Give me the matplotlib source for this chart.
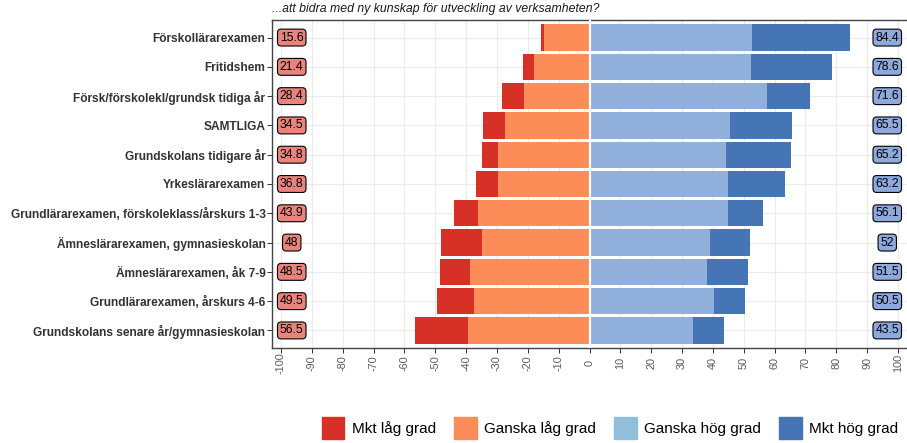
import numpy as np
import matplotlib
matplotlib.use('Agg')
import matplotlib.pyplot as plt
from matplotlib.patches import Patch

plt.rcParams['font.family'] = ['Liberation Sans', 'DejaVu Sans']

# kategorier (uppifrån och ned)
kategorier = [
    'Förskollärarexamen',
    'Fritidshem',
    'Försk/förskolekl/grundsk tidiga år',
    'SAMTLIGA',
    'Grundskolans tidigare år',
    'Yrkeslärarexamen',
    'Grundlärarexamen, förskoleklass/årskurs 1-3',
    'Ämneslärarexamen, gymnasieskolan',
    'Ämneslärarexamen, åk 7-9',
    'Grundlärarexamen, årskurs 4-6',
    'Grundskolans senare år/gymnasieskolan',
]
mkt_lag = [1.0, 3.4, 7.2, 7.0, 5.2, 7.0, 7.9, 13.0, 9.7, 12.2, 17.1]
ganska_lag = [14.6, 18.0, 21.2, 27.5, 29.6, 29.8, 36.0, 35.0, 38.8, 37.3, 39.4]
ganska_hog = [52.7, 52.3, 57.5, 45.5, 44.1, 44.9, 44.9, 39.2, 38.0, 40.2, 33.5]
mkt_hog = [31.7, 26.3, 14.1, 20.0, 21.1, 18.3, 11.2, 12.8, 13.5, 10.3, 10.0]
summa_lag = ['15.6', '21.4', '28.4', '34.5', '34.8', '36.8', '43.9', '48', '48.5', '49.5', '56.5']
summa_hog = ['84.4', '78.6', '71.6', '65.5', '65.2', '63.2', '56.1', '52', '51.5', '50.5', '43.5']

titel = '...att bidra med ny kunskap för utveckling av verksamheten?'
serier = ['Mkt låg grad', 'Ganska låg grad', 'Ganska hög grad', 'Mkt hög grad']

RED = '#D73027'
ORANGE = '#FC8D59'
LBLUE = '#91AFDB'
LBLUE_LEG = '#91BFDB'
DBLUE = '#4575B4'

n = len(kategorier)
y = np.arange(n)[::-1]
ml = np.array(mkt_lag)
gl = np.array(ganska_lag)
gh = np.array(ganska_hog)
mh = np.array(mkt_hog)

fig = plt.figure(figsize=(9.07, 4.43), dpi=100)
ax = fig.add_axes([272 / 907, 1 - 348 / 443, 1 - 272 / 907, (348 - 20) / 443])

h = 0.9
ax.barh(y, -gl, height=h, color=ORANGE, zorder=2)
ax.barh(y, -ml, left=-gl, height=h, color=RED, zorder=2)
ax.barh(y, gh, height=h, color=LBLUE, zorder=2)
ax.barh(y, mh, left=gh, height=h, color=DBLUE, zorder=2)
ax.axvline(0, color='white', lw=1.6, zorder=3)

# etiketter med summor
for yi, sl, sh in zip(y, summa_lag, summa_hog):
    ax.text(-96.5, yi, sl, ha='center', va='center', fontsize=8.8, zorder=5,
            bbox=dict(boxstyle='round,pad=0.2,rounding_size=0.3', fc='#E9837B', ec='black', lw=0.8))
    ax.text(96.5, yi, sh, ha='center', va='center', fontsize=8.8, zorder=5,
            bbox=dict(boxstyle='round,pad=0.2,rounding_size=0.3', fc='#8EA9DB', ec='black', lw=0.8))

ax.set_xlim(-102.9, 102.9)
ax.set_ylim(-0.6, n - 0.4)
ax.set_xticks(np.arange(-100, 101, 10))
ax.set_xticklabels([str(v) for v in range(-100, 101, 10)], rotation=90,
                   va='center', ha='center', fontsize=7.8, color='#5A5A5A')
ax.set_yticks(y)
ax.set_yticklabels(kategorier, fontsize=8.6, fontweight='bold', color='#333333')
ax.tick_params(axis='x', length=3.5, pad=7.5, color='#333333', width=0.7)
ax.tick_params(axis='y', length=3.5, pad=1.2, color='#333333', width=0.7)
ax.grid(True, color='#EBEBEB', lw=0.8, zorder=0)
ax.set_axisbelow(True)
for s in ['left', 'bottom', 'top']:
    ax.spines[s].set_color('#444444')
    ax.spines[s].set_linewidth(1.0)
ax.spines['right'].set_visible(False)

fig.text(272 / 907, 1 - 9 / 443, titel, fontsize=8.8, style='italic', va='center', ha='left', color='#1A1A1A')

handles = [Patch(color=RED), Patch(color=ORANGE), Patch(color=LBLUE_LEG), Patch(color=DBLUE)]
fig.legend(handles, serier, loc='center', bbox_to_anchor=(610 / 907, 1 - 428 / 443), ncol=4,
           frameon=False, fontsize=11, handlelength=1.5, handleheight=1.75,
           handletextpad=0.5, columnspacing=1.15)

plt.savefig('out.png', dpi=100)
